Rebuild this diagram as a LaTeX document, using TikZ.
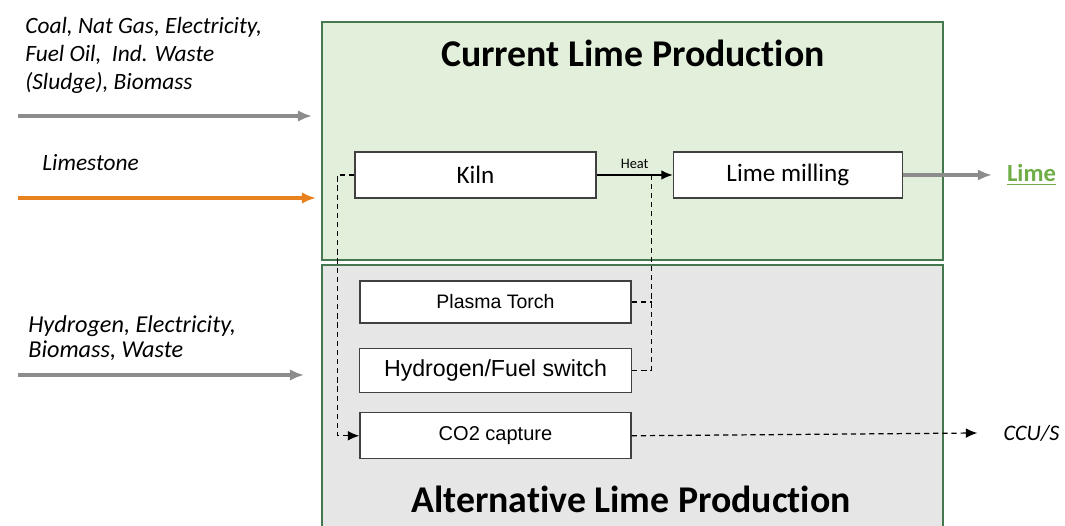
\documentclass[tikz,border=0pt]{standalone}
\usepackage{fontspec}
\setmainfont{Carlito}[Ligatures=NoCommon]
\newfontfamily\arialfont{Liberation Sans}
\usepackage{tikz}
\usetikzlibrary{arrows.meta,positioning,calc}
\definecolor{panelgreen}{RGB}{226,239,218}
\definecolor{panelgray}{RGB}{231,230,230}
\definecolor{paneledge}{RGB}{70,120,80}
\definecolor{feedgray}{RGB}{140,140,140}
\definecolor{limeorange}{RGB}{232,130,30}
\definecolor{limegreen}{RGB}{112,173,71}
\definecolor{boxedge}{RGB}{64,64,64}

\begin{document}
\begin{tikzpicture}[x=0.02cm, y=-0.02cm]
      \tikzstyle{panel} = [rectangle, draw=paneledge, line width=0.8pt,
                           minimum width=12.42cm, inner sep=0pt]
      \tikzstyle{paneltitle} = [font=\fontsize{21.5}{26}\selectfont\bfseries]
      \tikzstyle{block} = [rectangle, draw=boxedge, fill=white, line width=0.8pt,
                           inner sep=0pt, minimum height=0.92cm]
      \tikzstyle{inlabel} = [align=left, anchor=west, inner sep=0pt,
                             font=\fontsize{13.3}{15.9}\selectfont\itshape]
      \tikzstyle{feed} = [draw, line width=2.2pt, -{Latex[length=8pt, width=6.5pt]}]
      \tikzstyle{dashline} = [draw, line width=0.7pt, dash pattern=on 3pt off 2.2pt]
      \tikzstyle{tip} = [-{Latex[length=6.5pt, width=5.5pt]}]
      \useasboundingbox (0,0) rectangle (1065,526);
      \node[panel, fill=panelgreen, minimum height=4.76cm] (current) at (632.5,141) {};
      \node[panel, fill=panelgray, minimum height=5.3cm] (alt) at (632.5,397.5) {};
      \node[paneltitle] (curtitle) at (633,53) {Current Lime Production};
      \node[paneltitle] (alttitle) at (631,499) {Alternative Lime Production};
      \node[block, minimum width=4.82cm, font=\fontsize{14.3}{17}\selectfont]
        (kiln) at (475.5,175) {Kiln};
      \node[block, minimum width=4.58cm, right=1.52cm of kiln,
            font=\fontsize{14.3}{17}\selectfont] (mill) {Lime milling};
      \node[block, minimum width=5.42cm, minimum height=0.84cm,
            font=\arialfont\fontsize{11.1}{13}\selectfont] (plasma) at (495.5,302) {Plasma Torch};
      \node[block, minimum width=5.44cm, minimum height=0.88cm, below=0.48cm of plasma,
            font=\arialfont\fontsize{13.2}{15}\selectfont] (fuel) {Hydrogen/Fuel switch};
      \node[block, minimum width=5.42cm, below=0.38cm of fuel,
            font=\arialfont\fontsize{11.4}{13}\selectfont] (co2) {CO2 capture};
      \node[font=\fontsize{14}{17}\selectfont\bfseries, text=limegreen]
        (lime) at (1031.5,175) {\underline{Lime}};
      \node[font=\fontsize{12.6}{15}\selectfont\itshape] (ccus) at (1031.5,433) {CCU/S};
      \node[inlabel] (fuels) at (25,55)
        {Coal, Nat Gas, Electricity,\\Fuel Oil,~ Ind. Waste\\(Sludge), Biomass};
      \node[inlabel] (stone) at (42,163) {Limestone};
      \node[inlabel, font=\fontsize{13.8}{14.3}\selectfont\itshape] (altfuels) at (28,338)
        {Hydrogen, Electricity,\\Biomass, Waste};
      \coordinate (fuelsrc) at (18,116);
      \coordinate (fueldst) at (312,116);
      \coordinate (stonesrc) at (18,198);
      \coordinate (stonedst) at (316,198);
      \coordinate (altsrc) at (18,375);
      \coordinate (altdst) at (304,375);
      \path[feed, draw=feedgray, fill=feedgray] (fuelsrc) -- (fueldst);
      \path[feed, draw=limeorange, fill=limeorange, line width=2pt] (stonesrc) -- (stonedst);
      \path[feed, draw=feedgray, fill=feedgray] (altsrc) -- (altdst);
      \path[draw, line width=0.8pt, tip] (kiln) --
        node[above, font=\fontsize{8.2}{10}\selectfont] (heat) {Heat} (mill);
      \coordinate (heatin) at ($(kiln.east)!0.724!(mill.west)$);
      \path[dashline, tip] (kiln.west) -- ++(-17,0) |- (co2.west);
      \path[dashline] (plasma.east) -- (plasma.east -| heatin);
      \path[dashline] (fuel.east) -| (heatin);
      \path[dashline, tip] (co2.east) -- ([xshift=-0.4cm]ccus.west);
      \path[feed, draw=feedgray, fill=feedgray] (mill) -- ([xshift=-0.18cm]lime.west);
    \end{tikzpicture}
\end{document}
